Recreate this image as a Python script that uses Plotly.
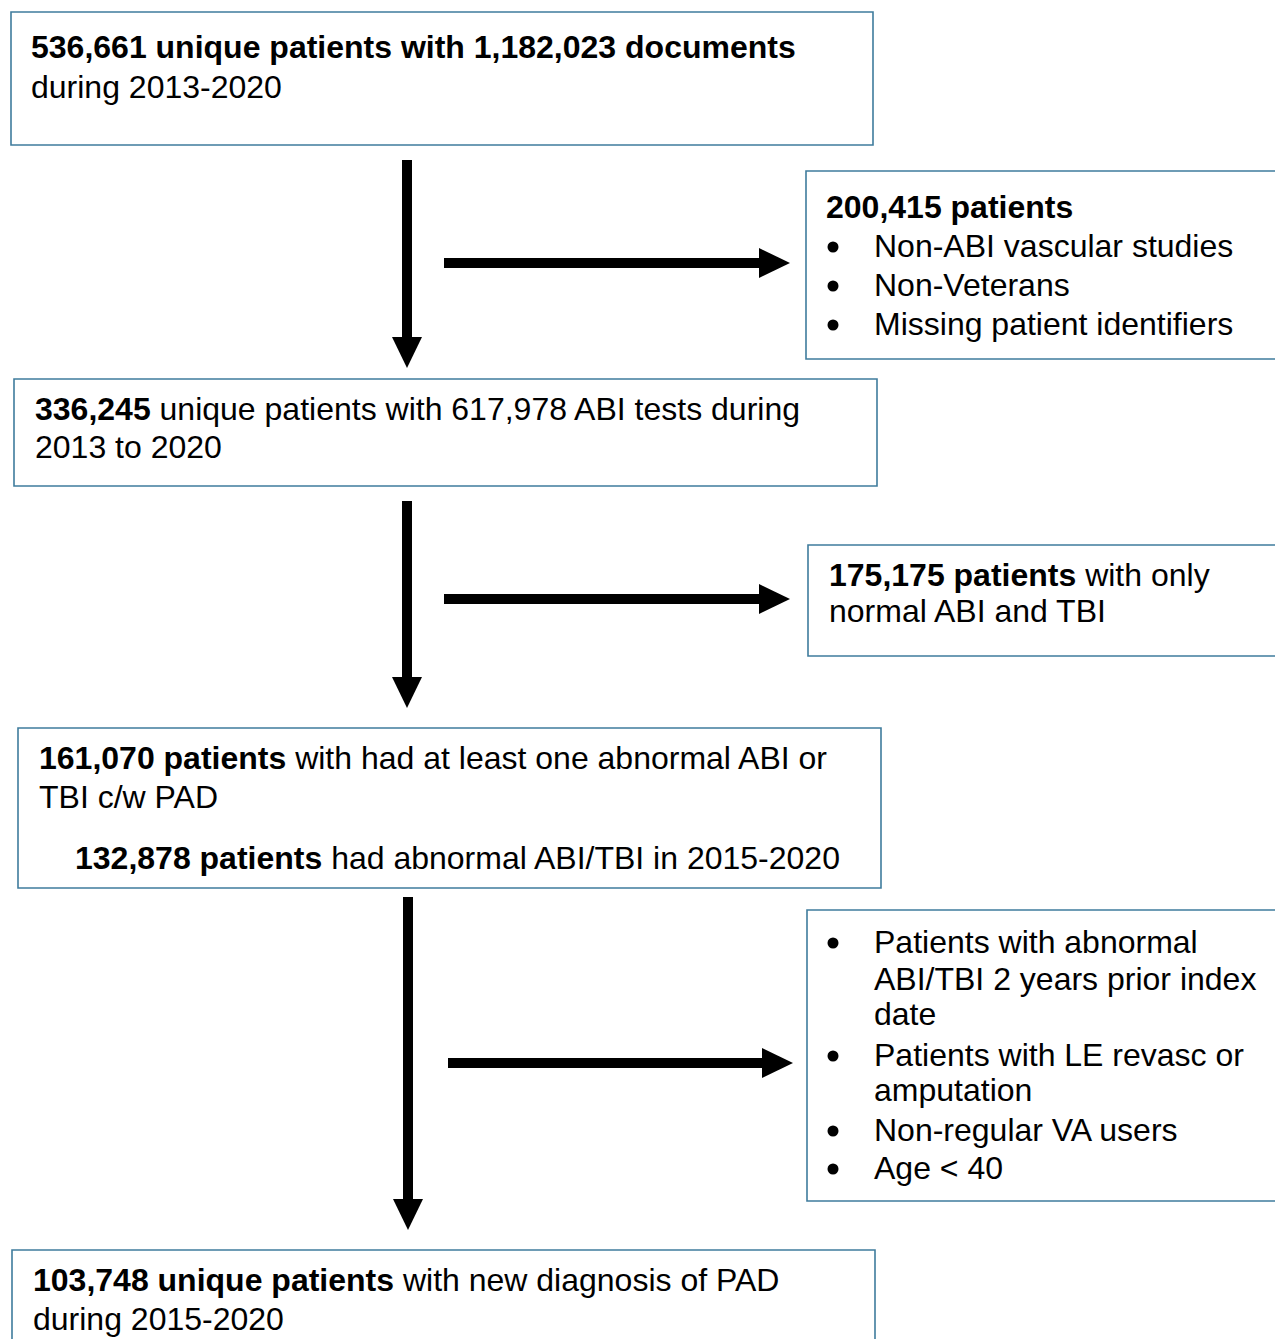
import plotly.graph_objects as go

# flowchart content
main_boxes = [
    ["<b>536,661 unique patients with 1,182,023 documents</b>", "during 2013-2020"],
    ["<b>336,245</b> unique patients with 617,978 ABI tests during", "2013 to 2020"],
    ["<b>161,070 patients</b> with had at least one abnormal ABI or", "TBI c/w PAD"],
    ["<b>103,748 unique patients</b> with new diagnosis of PAD", "during 2015-2020"],
]
sub_note = "<b>132,878 patients</b> had abnormal ABI/TBI in 2015-2020"

excl_lines = [
    ["<b>200,415 patients</b>", "Non-ABI vascular studies", "Non-Veterans", "Missing patient identifiers"],
    ["<b>175,175 patients</b> with only", "normal ABI and TBI"],
    ["Patients with abnormal", "ABI/TBI 2 years prior index", "date",
     "Patients with LE revasc or", "amputation", "Non-regular VA users", "Age < 40"],
]
excl_has_bullet = [
    [False, True, True, True],
    [False, False],
    [True, False, False, True, False, True, True],
]

# geometry (page pixels)
W, H = 1275, 1339
main_rects = [(11, 12, 873, 145), (14, 379, 877, 486), (18, 728, 881, 888), (12, 1250, 875, 1360)]
main_text_x = [29, 33, 37, 31]
main_text_y = [[47, 87], [409, 447], [758, 797], [1280, 1319]]
sub_xy = (73, 858)
excl_rects = [(806, 171, 1290, 359), (808, 545, 1290, 656), (807, 910, 1290, 1201)]
excl_head_x = [824, 827, 873]
excl_text_x = 872
excl_text_y = [[207, 246, 285, 324], [575, 611], [942, 979, 1014, 1055, 1090, 1130, 1168]]
bullet_x = 833
arrows = [
    (407, 160, 407, 368), (407, 501, 407, 708), (408, 897, 408, 1230),
    (444, 263, 790, 263), (444, 599, 790, 599), (448, 1063, 793, 1063),
]

FONT = "Liberation Sans, Arial, sans-serif"
FS = 32
BORDER = "#3f7c9d"

fig = go.Figure()
shapes = []
annotations = []


def add_text(x, y, text, size=FS):
    annotations.append(dict(
        x=x, y=y, xref="x", yref="y", text=text, showarrow=False,
        xanchor="left", yanchor="middle", align="left",
        font=dict(family=FONT, size=size, color="black"),
    ))


for (x0, y0, x1, y1) in main_rects + excl_rects:
    shapes.append(dict(type="rect", x0=x0, y0=y0, x1=x1, y1=y1, xref="x", yref="y",
                       line=dict(color=BORDER, width=1.6), fillcolor="rgba(0,0,0,0)"))

for lines, tx, ys in zip(main_boxes, main_text_x, main_text_y):
    for ln, y in zip(lines, ys):
        add_text(tx, y, ln)
add_text(sub_xy[0], sub_xy[1], sub_note)

bx, by = [], []
for k in range(3):
    for ln, y, bul in zip(excl_lines[k], excl_text_y[k], excl_has_bullet[k]):
        if bul:
            bx.append(bullet_x)
            by.append(y + 1)
            add_text(excl_text_x, y, ln)
        elif k == 2:
            add_text(excl_text_x, y, ln)
        else:
            add_text(excl_head_x[k], y, ln)

fig.add_trace(go.Scatter(x=bx, y=by, mode="markers", hoverinfo="skip",
                         marker=dict(symbol="circle", size=11, color="black")))

head_len, head_half = 31, 15
for (x0, y0, x1, y1) in arrows:
    if x0 == x1:
        sgn = 1 if y1 > y0 else -1
        hb = y1 - sgn * head_len
        shapes.append(dict(type="line", x0=x0, y0=y0, x1=x1, y1=hb, xref="x", yref="y",
                           line=dict(color="black", width=10)))
        path = f"M {x1 - head_half} {hb} L {x1 + head_half} {hb} L {x1} {y1} Z"
    else:
        sgn = 1 if x1 > x0 else -1
        hb = x1 - sgn * head_len
        shapes.append(dict(type="line", x0=x0, y0=y0, x1=hb, y1=y1, xref="x", yref="y",
                           line=dict(color="black", width=10)))
        path = f"M {hb} {y1 - head_half} L {hb} {y1 + head_half} L {x1} {y1} Z"
    shapes.append(dict(type="path", path=path, xref="x", yref="y",
                       fillcolor="black", line=dict(color="black", width=0)))

fig.update_layout(
    width=W, height=H,
    margin=dict(l=0, r=0, t=0, b=0),
    paper_bgcolor="white", plot_bgcolor="white",
    xaxis=dict(range=[0, W], visible=False, fixedrange=True),
    yaxis=dict(range=[H, 0], visible=False, fixedrange=True),
    shapes=shapes, annotations=annotations, showlegend=False,
)

# drop the page's default body margin so the figure fills the window exactly
fig.write_html("out.html", config={"displayModeBar": False},
               post_script="document.body.style.margin='0';document.body.style.overflow='hidden';")
